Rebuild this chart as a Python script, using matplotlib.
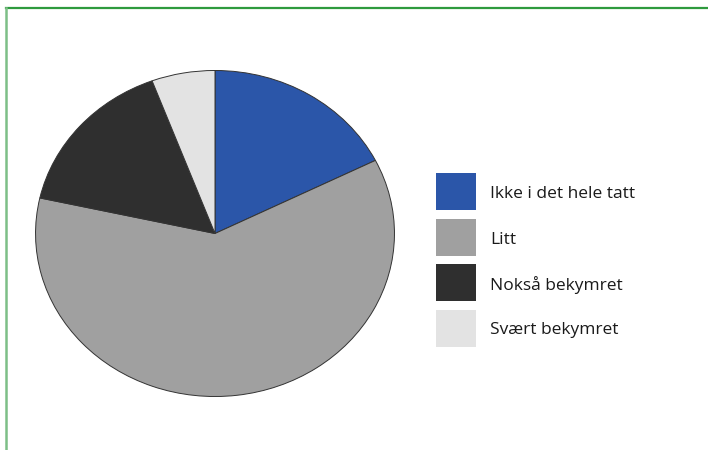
import matplotlib.pyplot as plt
from matplotlib.patches import Rectangle
from matplotlib.lines import Line2D

# andel svar per kategori (%)
labels = ["Ikke i det hele tatt", "Litt", "Nokså bekymret", "Svært bekymret"]
values = [17.6, 60.9, 15.8, 5.7]
colors = ["#2b56a9", "#a0a0a0", "#2f2f2f", "#e3e3e3"]

fig = plt.figure(figsize=(7.08, 4.5), dpi=100)
fig.patch.set_facecolor("white")

# kake, strukket litt i bredden
ax = fig.add_axes([35 / 708, 53 / 450, 360 / 708, 327 / 450])
ax.pie(values, colors=colors, startangle=90, counterclock=False,
       wedgeprops=dict(edgecolor="#333333", linewidth=0.7))
ax.set_aspect("auto")
ax.set_xlim(-1.003, 1.003)
ax.set_ylim(-1.003, 1.003)
ax.axis("off")

# forklaring
y0 = 173
for i, (lab, col) in enumerate(zip(labels, colors)):
    top = y0 + i * 45.5
    fig.patches.append(Rectangle((436 / 708, 1 - (top + 37) / 450), 40 / 708, 37 / 450,
                                 transform=fig.transFigure, facecolor=col,
                                 edgecolor="none"))
    fig.text(490 / 708, 1 - (top + 21) / 450, lab, fontsize=12.5,
             family="Open Sans", color="#1a1a1a", va="center", ha="left")

# grønn ramme oppe og til venstre
fig.add_artist(Line2D([5.5 / 708, 1], [1 - 8 / 450, 1 - 8 / 450],
                      transform=fig.transFigure, color="#2e9a3e", linewidth=1.6))
fig.add_artist(Line2D([5.5 / 708, 5.5 / 708], [0, 1 - 8 / 450],
                      transform=fig.transFigure, color="#7dbf87", linewidth=1.8))

fig.savefig("out.png", dpi=100)
